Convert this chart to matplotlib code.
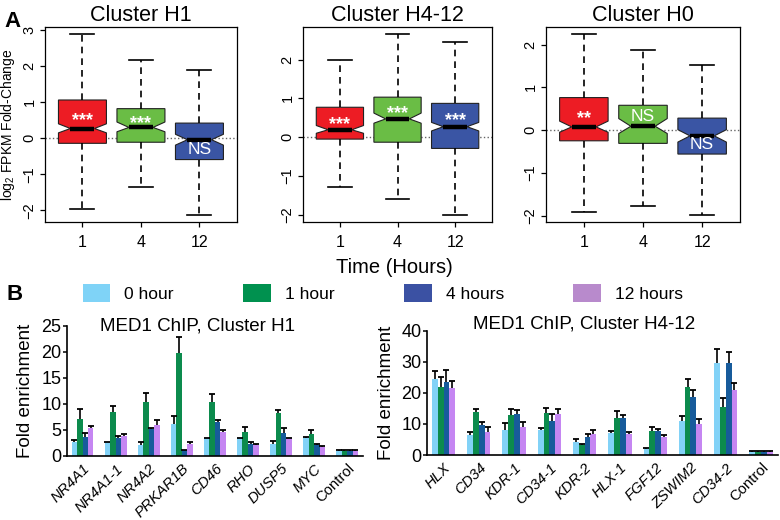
import numpy as np
import matplotlib
matplotlib.use("Agg")
import matplotlib.pyplot as plt
from matplotlib.patches import Patch

plt.rcParams.update({
    "font.family": ["Liberation Sans", "DejaVu Sans"],
    "mathtext.fontset": "custom",
    "mathtext.rm": "Liberation Sans",
    "mathtext.it": "Liberation Sans:italic",
    "mathtext.bf": "Liberation Sans:bold",
})

# ---- panel A: boxplot summaries ----
CLUSTERS = ["Cluster H1", "Cluster H4-12", "Cluster H0"]
TIMES = ["1", "4", "12"]
BOX_COLORS = ["#ED1C24", "#6ABD45", "#3A55A4"]

WHIS_HI = [[2.88, 2.18, 1.88], [2.00, 2.65, 2.45], [2.24, 1.87, 1.51]]
Q3 = [[1.06, 0.82, 0.42], [0.77, 1.03, 0.87], [0.76, 0.58, 0.28]]
MED = [[0.27, 0.30, -0.04], [0.19, 0.47, 0.27], [0.075, 0.09, -0.135]]
NOTCH_HI = [[0.40, 0.45, 0.11], [0.30, 0.62, 0.38], [0.21, 0.27, 0.01]]
NOTCH_LO = [[0.15, 0.18, -0.19], [0.10, 0.36, 0.16], [-0.05, -0.08, -0.28]]
Q1 = [[-0.14, -0.11, -0.59], [-0.05, -0.13, -0.29], [-0.25, -0.31, -0.56]]
WHIS_LO = [[-1.95, -1.35, -2.12], [-1.28, -1.60, -2.00], [-1.92, -1.78, -1.98]]
SIG = [["***", "***", "NS"], ["***", "***", "***"], ["**", "NS", "NS"]]
# whether the label sits in the upper half of the box
SIG_UPPER = [[True, True, False], [True, True, True], [True, True, False]]

# ---- panel B: MED1 ChIP fold enrichment ----
HOURS = ["0 hour", "1 hour", "4 hours", "12 hours"]
BAR_COLORS = ["#82D2F7", "#0C8B4D", "#175B9B", "#C586F2"]
LEG_COLORS = ["#7FD3F7", "#00914F", "#3B51A3", "#B88ACC"]

GENES_H1 = ["NR4A1", "NR4A1-1", "NR4A2", "PRKAR1B", "CD46", "RHO", "DUSP5", "MYC", "Control"]
H1_VALS = [
    [2.6, 2.6, 2.2, 6.1, 3.4, 3.4, 2.3, 3.4, 1.0],
    [7.1, 8.4, 10.3, 19.9, 10.45, 4.7, 8.3, 4.3, 1.0],
    [3.6, 3.5, 5.25, 1.1, 6.5, 2.4, 4.4, 2.2, 1.0],
    [5.3, 3.85, 6.0, 2.4, 4.7, 2.2, 3.4, 1.8, 1.0],
]
H1_ERR = [
    [0.5, 0.15, 0.5, 1.6, 0.15, 0.1, 0.5, 0.3, 0.1],
    [1.9, 1.2, 1.9, 2.9, 1.45, 0.8, 0.5, 0.7, 0.1],
    [0.8, 0.35, 0.1, 0.1, 0.5, 0.35, 0.9, 0.2, 0.1],
    [0.45, 0.45, 1.0, 0.2, 0.35, 0.2, 0.15, 0.2, 0.1],
]

GENES_H412 = ["HLX", "CD34", "KDR-1", "CD34-1", "KDR-2", "HLX-1", "FGF12", "ZSWIM2", "CD34-2", "Control"]
H412_VALS = [
    [24.4, 6.3, 8.1, 8.0, 4.3, 7.0, 2.0, 11.1, 29.6, 1.0],
    [22.0, 13.9, 12.9, 13.7, 3.1, 12.0, 7.8, 22.0, 15.4, 1.0],
    [23.7, 9.6, 13.2, 11.0, 5.8, 11.9, 7.7, 18.8, 29.6, 1.0],
    [21.7, 7.5, 9.1, 13.2, 6.9, 6.7, 5.9, 10.0, 21.0, 1.0],
]
H412_ERR = [
    [2.8, 1.2, 2.1, 0.8, 0.8, 0.8, 0.15, 1.6, 4.6, 0.2],
    [3.3, 0.9, 1.8, 1.6, 0.4, 2.3, 1.2, 2.6, 3.1, 0.2],
    [3.7, 0.9, 1.4, 2.1, 0.9, 1.1, 0.8, 2.2, 3.5, 0.2],
    [2.2, 1.5, 1.5, 1.6, 1.1, 0.7, 0.7, 1.7, 2.1, 0.2],
]


def draw_boxes(ax, k):
    stats = []
    for j in range(3):
        stats.append(dict(med=MED[k][j], q1=Q1[k][j], q3=Q3[k][j],
                          whislo=WHIS_LO[k][j], whishi=WHIS_HI[k][j],
                          cilo=NOTCH_LO[k][j], cihi=NOTCH_HI[k][j], fliers=[]))
    pos = np.arange(1, 4)
    bp = ax.bxp(stats, positions=pos, widths=0.82, patch_artist=True,
                shownotches=True, showfliers=False,
                boxprops=dict(edgecolor="#222222", linewidth=0.8),
                whiskerprops=dict(color="black", linestyle=(0, (4, 3)), linewidth=1.2),
                capprops=dict(color="black", linewidth=1.2),
                medianprops=dict(color="black", linewidth=3.2, solid_capstyle="butt"))
    for patch, c in zip(bp["boxes"], BOX_COLORS):
        patch.set_facecolor(c)
    ax.axhline(0, color="#666666", linestyle=":", linewidth=1.0, zorder=0.5)

    for j in range(3):
        label = SIG[k][j]
        star = label.startswith("*")
        if SIG_UPPER[k][j]:
            y = MED[k][j] + 0.45 * (Q3[k][j] - MED[k][j])
        else:
            y = MED[k][j] - 0.5 * (MED[k][j] - Q1[k][j])
        ax.annotate(label, (pos[j], y), xytext=(0, -3.5 if star else 0),
                    textcoords="offset points", ha="center", va="center",
                    color="white", fontsize=13 if star else 12.5,
                    fontweight="bold" if star else "normal")

    lo = min(WHIS_LO[k])
    hi = max(WHIS_HI[k])
    pad = 0.04 * (hi - lo)
    ax.set_ylim(lo - pad, hi + pad)
    ax.set_xlim(0.36, 3.64)
    ax.set_yticks(np.arange(-2, int(np.floor(hi + pad)) + 1))
    ax.set_xticks(pos, TIMES)
    ax.tick_params(axis="y", labelrotation=90, labelsize=10.5, length=3.6, width=0.9, pad=2.5)
    ax.tick_params(axis="x", labelsize=11.5, length=3.6, width=0.9, pad=6)
    for lab in ax.get_yticklabels():
        lab.set_va("center")
    for sp in ax.spines.values():
        sp.set_linewidth(0.9)
    ax.set_title(CLUSTERS[k], fontsize=15.5, pad=4)


def draw_bars(ax, genes, vals, errs, ymax, ystep, title, title_xy):
    x = np.arange(len(genes))
    w = 0.165
    for i in range(4):
        xs = x + (i - 1.5) * w
        v = np.array(vals[i])
        e = np.array(errs[i])
        ax.bar(xs, v, w, color=BAR_COLORS[i], linewidth=0, zorder=2)
        ax.errorbar(xs, v, yerr=[np.zeros_like(e), e], fmt="none",
                    ecolor="black", elinewidth=1.2, capsize=0, zorder=3)
        ax.plot(xs, v + e, linestyle="none", marker="_", markersize=5,
                markeredgewidth=1.3, color="black", zorder=3)
    ax.set_xlim(-0.47, len(genes) - 0.52)
    ax.set_ylim(0, ymax)
    ax.set_yticks(np.arange(0, ymax + 1, ystep))
    ax.set_xticks(x, genes, rotation=45, ha="right", rotation_mode="anchor")
    for lab in ax.get_xticklabels():
        lab.set_fontstyle("normal" if lab.get_text() == "Control" else "italic")
    ax.tick_params(axis="x", length=0, labelsize=10.7, pad=4)
    ax.tick_params(axis="y", length=3, width=1.1, labelsize=13, pad=1)
    ax.spines["top"].set_visible(False)
    ax.spines["right"].set_visible(False)
    ax.spines["left"].set_linewidth(1.2)
    ax.spines["bottom"].set_linewidth(1.2)
    ax.text(title_xy[0], title_xy[1], title, transform=ax.transAxes,
            ha="center", va="center", fontsize=13.5)
    ax.set_ylabel("Fold enrichment", fontsize=13.5)


fig = plt.figure(figsize=(7.8, 5.2), dpi=100)

axA = [fig.add_axes([0.0577, 0.573, 0.246, 0.375]),
       fig.add_axes([0.3885, 0.573, 0.2423, 0.375]),
       fig.add_axes([0.700, 0.573, 0.2487, 0.375])]
for k, ax in enumerate(axA):
    draw_boxes(ax, k)
axA[0].set_ylabel("log$_2$ FPKM Fold-Change", fontsize=10)
axA[0].yaxis.set_label_coords(-0.148, 0.5)
fig.text(0.506, 0.485, "Time (Hours)", ha="center", va="center", fontsize=14.5)

axB1 = fig.add_axes([0.0859, 0.1231, 0.3795, 0.25])
draw_bars(axB1, GENES_H1, H1_VALS, H1_ERR, 25, 5, "MED1 ChIP, Cluster H1", (0.44, 1.0))
axB1.yaxis.set_label_coords(-0.11, 0.5)

axB2 = fig.add_axes([0.5474, 0.125, 0.45, 0.2385])
draw_bars(axB2, GENES_H412, H412_VALS, H412_ERR, 40, 10, "MED1 ChIP, Cluster H4-12", (0.447, 1.056))
axB2.yaxis.set_label_coords(-0.092, 0.5)

handles = [Patch(facecolor=c, edgecolor="none") for c in LEG_COLORS]
fig.legend(handles, HOURS, loc="center left", bbox_to_anchor=(0.106, 0.437),
           ncol=4, frameon=False, fontsize=12.5, handlelength=1.6, handleheight=1.2,
           handletextpad=0.8, columnspacing=4.0, borderpad=0, borderaxespad=0)

fig.text(0.006, 0.978, "A", fontsize=16, fontweight="bold", va="top", ha="left")
fig.text(0.008, 0.433, "B", fontsize=16, fontweight="bold", va="center", ha="left")

fig.savefig("out.png", dpi=100)
